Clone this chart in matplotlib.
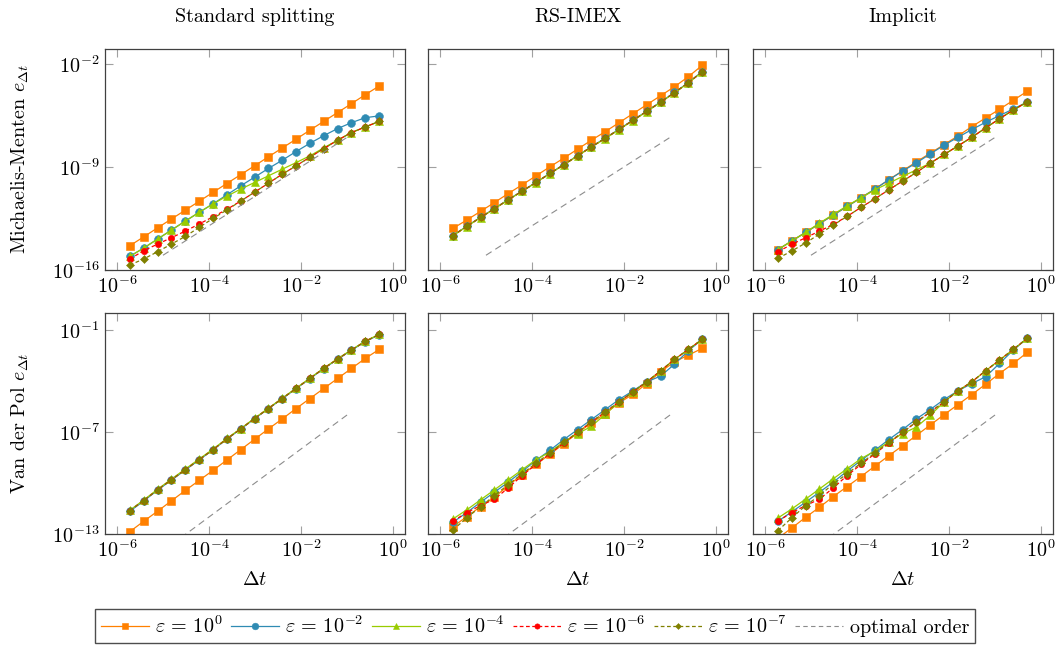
import numpy as np
import matplotlib
matplotlib.use('Agg')
import matplotlib.pyplot as plt
from matplotlib.ticker import LogFormatterSciNotation, NullLocator
from matplotlib.lines import Line2D

plt.rcParams['font.family'] = 'serif'
plt.rcParams['font.serif'] = ['cmr10', 'DejaVu Serif']
plt.rcParams['mathtext.fontset'] = 'cm'
plt.rcParams['axes.formatter.use_mathtext'] = True
plt.rcParams['axes.unicode_minus'] = False

# --- time steps ---
dt = [1.9073486328125e-06, 3.814697265625e-06, 7.62939453125e-06, 1.52587890625e-05,
      3.0517578125e-05, 6.103515625e-05, 1.220703125e-04, 2.44140625e-04,
      4.8828125e-04, 9.765625e-04, 1.953125e-03, 3.90625e-03, 7.8125e-03,
      1.5625e-02, 3.125e-02, 6.25e-02, 0.125, 0.25, 0.5]

# --- errors, log10 values ---
# Michaelis-Menten, standard splitting
mm_std_e0 = [-14.35, -13.75, -13.14, -12.54, -11.94, -11.34, -10.73, -10.13, -9.53, -8.93, -8.32, -7.72, -7.12, -6.51, -5.91, -5.31, -4.71, -4.10, -3.51]
mm_std_e2 = [-15.07, -14.51, -13.90, -13.29, -12.68, -12.09, -11.51, -10.90, -10.29, -9.70, -9.11, -8.55, -7.96, -7.40, -6.88, -6.40, -6.00, -5.66, -5.54]
mm_std_e4 = [-15.07, -14.51, -13.90, -13.29, -12.68, -12.09, -11.51, -10.99, -10.51, -10.06, -9.61, -9.16, -8.71, -8.25, -7.71, -7.19, -6.67, -6.29, -5.91]
mm_std_e6 = [-15.25, -14.69, -14.24, -13.81, -13.36, -12.88, -12.39, -11.89, -11.32, -10.72, -10.11, -9.50, -8.93, -8.34, -7.76, -7.19, -6.67, -6.29, -5.91]
mm_std_e7 = [-15.66, -15.25, -14.76, -14.24, -13.72, -13.11, -12.50, -11.93, -11.32, -10.72, -10.11, -9.50, -8.93, -8.34, -7.76, -7.19, -6.67, -6.29, -5.91]

# Michaelis-Menten, RS-IMEX
mm_rs_e0 = [-13.18, -12.61, -12.02, -11.42, -10.81, -10.22, -9.61, -9.00, -8.41, -7.80, -7.19, -6.61, -6.00, -5.39, -4.78, -4.17, -3.56, -2.88, -2.11]
mm_rs_e2 = [-13.66, -13.03, -12.42, -11.83, -11.22, -10.64, -10.05, -9.44, -8.85, -8.24, -7.63, -7.05, -6.44, -5.83, -5.22, -4.59, -3.95, -3.28, -2.53]
mm_rs_e4 = [-13.68, -13.05, -12.44, -11.85, -11.24, -10.66, -10.07, -9.46, -8.87, -8.26, -7.66, -7.08, -6.47, -5.86, -5.25, -4.62, -3.98, -3.31, -2.55]
mm_rs_e6 = [-13.67, -13.04, -12.43, -11.84, -11.23, -10.65, -10.06, -9.45, -8.86, -8.25, -7.64, -7.06, -6.45, -5.84, -5.23, -4.60, -3.96, -3.29, -2.54]
mm_rs_e7 = [-13.67, -13.04, -12.43, -11.84, -11.23, -10.65, -10.06, -9.45, -8.86, -8.25, -7.64, -7.06, -6.45, -5.84, -5.23, -4.60, -3.96, -3.29, -2.54]

# Michaelis-Menten, implicit
mm_im_e0 = [-14.62, -14.03, -13.45, -12.86, -12.27, -11.69, -11.10, -10.51, -9.88, -9.27, -8.66, -8.07, -7.49, -6.90, -6.27, -5.68, -5.09, -4.48, -3.87]
mm_im_e2 = [-14.62, -14.03, -13.45, -12.86, -12.27, -11.69, -11.10, -10.51, -9.88, -9.29, -8.73, -8.12, -7.53, -6.99, -6.47, -5.97, -5.52, -5.07, -4.60]
mm_im_e4 = [-14.62, -14.03, -13.45, -12.82, -12.23, -11.64, -11.10, -10.56, -10.11, -9.65, -9.20, -8.75, -8.16, -7.58, -6.99, -6.36, -5.73, -5.14, -4.60]
mm_im_e6 = [-14.76, -14.26, -13.81, -13.36, -12.91, -12.36, -11.75, -11.17, -10.56, -9.97, -9.38, -8.75, -8.16, -7.58, -6.99, -6.36, -5.73, -5.14, -4.60]
mm_im_e7 = [-15.21, -14.71, -14.17, -13.56, -12.95, -12.36, -11.75, -11.17, -10.56, -9.97, -9.38, -8.75, -8.16, -7.58, -6.99, -6.36, -5.73, -5.14, -4.60]

# Van der Pol, standard splitting
vdp_std_e0 = [-12.86, -12.25, -11.66, -11.05, -10.44, -9.85, -9.26, -8.65, -8.04, -7.43, -6.82, -6.23, -5.62, -5.03, -4.44, -3.85, -3.26, -2.67, -2.14]
vdp_std_e2 = [-11.66, -11.06, -10.42, -9.83, -9.24, -8.64, -8.05, -7.42, -6.83, -6.22, -5.63, -5.04, -4.45, -3.86, -3.27, -2.72, -2.19, -1.68, -1.28]
vdp_std_e4 = [-11.60, -11.00, -10.37, -9.77, -9.18, -8.59, -8.01, -7.38, -6.80, -6.19, -5.60, -5.01, -4.42, -3.83, -3.24, -2.69, -2.16, -1.65, -1.25]
vdp_std_e6 = [-11.62, -11.03, -10.40, -9.81, -9.22, -8.63, -8.04, -7.41, -6.82, -6.21, -5.62, -5.03, -4.44, -3.85, -3.26, -2.71, -2.18, -1.67, -1.26]
vdp_std_e7 = [-11.62, -11.03, -10.40, -9.81, -9.22, -8.63, -8.04, -7.41, -6.82, -6.21, -5.62, -5.03, -4.44, -3.85, -3.26, -2.71, -2.18, -1.67, -1.26]

# Van der Pol, RS-IMEX
vdp_rs_e0 = [-12.57, -11.98, -11.39, -10.84, -10.15, -9.50, -8.91, -8.32, -7.69, -7.06, -6.47, -5.92, -5.29, -4.78, -4.15, -3.46, -2.87, -2.48, -2.08]
vdp_rs_e2 = [-12.31, -11.74, -11.13, -10.54, -9.95, -9.32, -8.67, -8.08, -7.45, -6.86, -6.27, -5.68, -5.09, -4.58, -4.05, -3.71, -3.01, -2.22, -1.55]
vdp_rs_e4 = [-12.12, -11.58, -10.99, -10.40, -9.81, -9.22, -8.63, -8.18, -7.59, -7.10, -6.67, -5.96, -5.23, -4.64, -4.05, -3.40, -2.73, -2.14, -1.55]
vdp_rs_e6 = [-12.25, -11.74, -11.33, -10.95, -10.29, -9.56, -8.91, -8.28, -7.65, -7.02, -6.41, -5.82, -5.23, -4.64, -4.05, -3.40, -2.73, -2.14, -1.55]
vdp_rs_e7 = [-12.76, -12.06, -11.39, -10.74, -10.09, -9.46, -8.83, -8.24, -7.61, -7.02, -6.41, -5.82, -5.23, -4.64, -4.05, -3.40, -2.73, -2.14, -1.55]

# Van der Pol, implicit
vdp_im_e0 = [-13.25, -12.65, -12.02, -11.43, -10.80, -10.21, -9.62, -9.01, -8.40, -7.81, -7.20, -6.59, -5.98, -5.39, -4.80, -4.19, -3.56, -2.97, -2.32]
vdp_im_e2 = [-12.25, -11.70, -11.13, -10.54, -9.95, -9.30, -8.67, -8.08, -7.45, -6.86, -6.23, -5.68, -5.09, -4.58, -4.15, -3.75, -2.97, -2.18, -1.49]
vdp_im_e4 = [-12.06, -11.53, -10.95, -10.35, -9.75, -9.16, -8.57, -8.12, -7.59, -7.10, -6.71, -6.02, -5.23, -4.58, -4.05, -3.40, -2.77, -2.14, -1.49]
vdp_im_e6 = [-12.25, -11.74, -11.33, -10.95, -10.29, -9.56, -8.91, -8.28, -7.65, -7.02, -6.41, -5.82, -5.23, -4.58, -4.05, -3.40, -2.77, -2.14, -1.49]
vdp_im_e7 = [-12.80, -12.06, -11.33, -10.74, -10.05, -9.46, -8.83, -8.24, -7.61, -7.02, -6.41, -5.82, -5.23, -4.58, -4.05, -3.40, -2.77, -2.14, -1.49]

# optimal order reference (second order)
opt_dt = [1e-5, 1e-1]
opt_mm = [1e-15, 1e-7]
opt_vdp = [1e-14, 1e-6]

methods = ['Standard splitting', 'RS-IMEX', 'Implicit']
problems = [r'Michaelis-Menten $e_{\Delta t}$', r'Van der Pol $e_{\Delta t}$']
eps_labels = [r'$\varepsilon\,=\,10^{0}$', r'$\varepsilon\,=\,10^{-2}$', r'$\varepsilon\,=\,10^{-4}$',
              r'$\varepsilon\,=\,10^{-6}$', r'$\varepsilon\,=\,10^{-7}$']

data = [
    [[mm_std_e0, mm_std_e2, mm_std_e4, mm_std_e6, mm_std_e7],
     [mm_rs_e0, mm_rs_e2, mm_rs_e4, mm_rs_e6, mm_rs_e7],
     [mm_im_e0, mm_im_e2, mm_im_e4, mm_im_e6, mm_im_e7]],
    [[vdp_std_e0, vdp_std_e2, vdp_std_e4, vdp_std_e6, vdp_std_e7],
     [vdp_rs_e0, vdp_rs_e2, vdp_rs_e4, vdp_rs_e6, vdp_rs_e7],
     [vdp_im_e0, vdp_im_e2, vdp_im_e4, vdp_im_e6, vdp_im_e7]],
]
opt_vals = [opt_mm, opt_vdp]
ylims = [(1e-16, 1e-1), (1e-13, 1e0)]
yticks = [[1e-16, 1e-9, 1e-2], [1e-13, 1e-7, 1e-1]]

# --- styles ---
colors = ['#ff8000', '#2f8bb3', '#99cc00', '#ff0000', '#808000']
markers = ['s', 'o', '^', 'o', 'D']
msizes = [5.6, 5.6, 5.4, 4.6, 3.8]
lstyles = ['-', '-', '-', (0, (3, 2)), (0, (3, 2))]
opt_color = '#8c8c8c'
fs = 14.5

W, H = 1058, 645
fig = plt.figure(figsize=(W / 100, H / 100), dpi=100)

lefts = [105, 428, 753]
width = 300
tops = [49, 313]
height = 221

for r in range(2):
    for c in range(3):
        ax = fig.add_axes([lefts[c] / W, 1 - (tops[r] + height) / H, width / W, height / H])
        for i in range(5):
            ax.plot(dt, 10 ** np.array(data[r][c][i]), color=colors[i], marker=markers[i],
                    ms=msizes[i], lw=0.9, ls=lstyles[i], mec=colors[i], mew=0.4)
        ax.plot(opt_dt, opt_vals[r], color=opt_color, lw=0.8, ls=(0, (6, 4)))
        ax.set_xscale('log')
        ax.set_yscale('log')
        ax.set_xlim(10 ** -6.26, 10 ** 0.26)
        ax.set_ylim(*ylims[r])
        ax.set_xticks([1e-6, 1e-4, 1e-2, 1e0])
        ax.set_yticks(yticks[r])
        ax.xaxis.set_minor_locator(NullLocator())
        ax.yaxis.set_minor_locator(NullLocator())
        ax.xaxis.set_major_formatter(LogFormatterSciNotation())
        ax.yaxis.set_major_formatter(LogFormatterSciNotation())
        ax.tick_params(which='major', direction='in', top=True, right=True, length=6,
                       width=0.8, color='#a0a0a0', labelsize=fs, pad=4)
        if c > 0:
            ax.tick_params(labelleft=False)
        for sp in ax.spines.values():
            sp.set_color('#404040')
            sp.set_linewidth(0.9)
        if r == 0:
            fig.text((lefts[c] + width / 2) / W, 1 - 17 / H, methods[c],
                     ha='center', va='center', fontsize=fs)
        else:
            fig.text((lefts[c] + width / 2) / W, 1 - 580 / H, r'$\Delta t$',
                     ha='center', va='center', fontsize=fs)
    fig.text(20 / W, 1 - (tops[r] + height / 2) / H, problems[r], rotation=90,
             ha='center', va='center', fontsize=fs)

# --- legend ---
handles = [Line2D([], [], color=colors[i], marker=markers[i], ms=msizes[i] - 0.8, lw=0.9,
                  ls=lstyles[i], mew=0.4) for i in range(5)]
handles.append(Line2D([], [], color=opt_color, lw=0.8, ls=(0, (4, 3))))
labels = eps_labels + ['optimal order']
fig.legend(handles, labels, loc='center', bbox_to_anchor=(535 / W, 1 - 626 / H), ncol=6,
           frameon=True, fancybox=False, edgecolor='#202020', fontsize=fs,
           handlelength=2.4, handletextpad=0.3, columnspacing=0.4, borderpad=0.3)

fig.savefig('out.png', dpi=100)
